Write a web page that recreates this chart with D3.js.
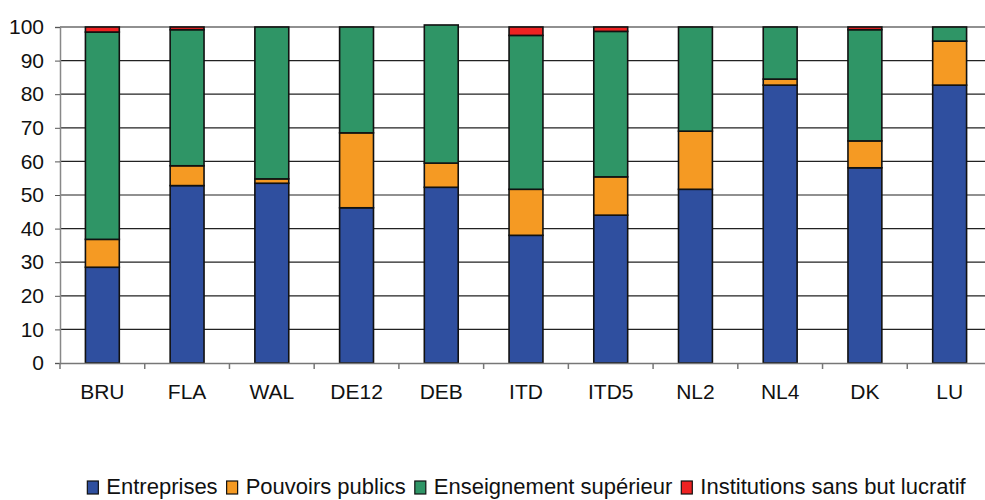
<!DOCTYPE html>
<html>
<head>
<meta charset="utf-8">
<script src="https://cdn.jsdelivr.net/npm/d3@7"></script>
<style>
  body { margin: 0; background: #fff; }
  svg text { font-family: "Liberation Sans", Arial, sans-serif; fill: #111; }
</style>
</head>
<body>
<div id="chart"></div>
<script>
const regions = ["BRU", "FLA", "WAL", "DE12", "DEB", "ITD", "ITD5", "NL2", "NL4", "DK", "LU"];
const seriesNames = ["Entreprises", "Pouvoirs publics", "Enseignement supérieur", "Institutions sans but lucratif"];
const entreprises   = [28.5, 52.8, 53.5, 46.2, 52.3, 38.0, 44.0, 51.7, 82.7, 58.1, 82.7];
const pouvoirs      = [8.3, 5.9, 1.3, 22.3, 7.2, 13.7, 11.4, 17.3, 1.8, 8.0, 13.1];
const enseignement  = [61.7, 40.5, 45.2, 31.5, 41.1, 45.8, 43.3, 31.0, 15.5, 33.1, 4.2];
const institutions  = [1.5, 0.8, 0, 0, 0, 2.5, 1.3, 0, 0, 0.8, 0];
const yTicks = [0, 10, 20, 30, 40, 50, 60, 70, 80, 90, 100];
const colors = ["#2F4F9F", "#F59A23", "#2F9566", "#EE2222"];

const width = 985, height = 500;
const svg = d3.select("#chart").append("svg").attr("width", width).attr("height", height);

const x = d3.scaleBand().domain(regions).range([60, 992]).paddingInner(0.6).paddingOuter(0.3);
const y = d3.scaleLinear().domain([0, 100]).range([363, 27]);

// gridlines
svg.append("g").selectAll("line").data(yTicks.slice(1)).enter().append("line")
    .attr("x1", 60).attr("x2", width)
    .attr("y1", d => y(d)).attr("y2", d => y(d))
    .attr("stroke", "#222").attr("stroke-width", 1.2);

// y axis
const yAxis = svg.append("g").attr("transform", "translate(60,0)")
    .call(d3.axisLeft(y).tickValues(yTicks).tickSize(5).tickPadding(11));
yAxis.select(".domain").attr("stroke", "#888").attr("stroke-width", 1.5);
yAxis.selectAll(".tick line").attr("stroke", "#555");
yAxis.selectAll("text").style("font-size", "21px").attr("fill", "#111");

// stacked bars
const table = regions.map((r, i) => ({
    region: r,
    [seriesNames[0]]: entreprises[i],
    [seriesNames[1]]: pouvoirs[i],
    [seriesNames[2]]: enseignement[i],
    [seriesNames[3]]: institutions[i]
}));
const stacked = d3.stack().keys(seriesNames)(table);

svg.append("g").selectAll("g").data(stacked).enter().append("g")
    .attr("fill", (d, i) => colors[i])
    .selectAll("rect").data(d => d.filter(s => s[1] - s[0] > 0)).enter().append("rect")
    .attr("x", d => x(d.data.region))
    .attr("width", x.bandwidth())
    .attr("y", d => y(d[1]))
    .attr("height", d => y(d[0]) - y(d[1]))
    .attr("stroke", "#111").attr("stroke-width", 1.6);

// x axis
const xAxis = svg.append("g").attr("transform", "translate(0,363)")
    .call(d3.axisBottom(x).tickSize(0).tickPadding(21));
xAxis.select(".domain").attr("stroke", "#777").attr("stroke-width", 1.5);
xAxis.selectAll("text").style("font-size", "21px").attr("fill", "#111");
const step = x.step();
svg.append("g").selectAll("line").data(d3.range(regions.length + 1)).enter().append("line")
    .attr("x1", i => 60 + i * step).attr("x2", i => 60 + i * step)
    .attr("y1", 363).attr("y2", 369)
    .attr("stroke", "#777").attr("stroke-width", 1.5);

// legend
const legend = svg.append("g");
let lx = 0;
seriesNames.forEach((name, i) => {
    const item = legend.append("g").attr("transform", `translate(${lx},0)`);
    item.append("rect").attr("x", 0).attr("y", -13).attr("width", 11).attr("height", 13)
        .attr("fill", colors[i]).attr("stroke", "#111").attr("stroke-width", 1.2);
    const t = item.append("text").attr("x", 19).attr("y", 0).style("font-size", "22px").text(name);
    lx += 19 + t.node().getComputedTextLength() + 9;
});
const total = lx - 9;
legend.attr("transform", `translate(${(88 + 965) / 2 - total / 2},494)`);
</script>
</body>
</html>
